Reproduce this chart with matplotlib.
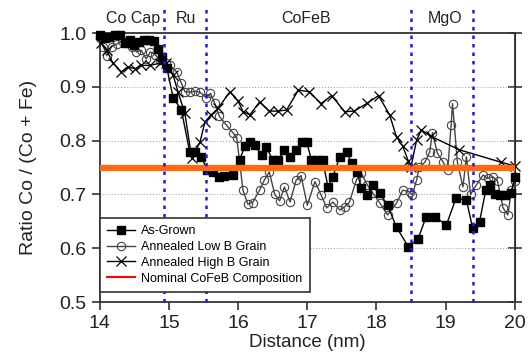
import matplotlib
matplotlib.use("Agg")
import matplotlib.pyplot as plt
from matplotlib.lines import Line2D

plt.rcParams['font.family'] = ['Liberation Sans', 'DejaVu Sans']

# As-Grown
grown_x = [14.00, 14.07, 14.14, 14.22, 14.29, 14.36, 14.43, 14.50, 14.57, 14.64,
           14.71, 14.78, 14.84, 14.90, 14.97, 15.06, 15.18, 15.30, 15.38, 15.47,
           15.55, 15.63, 15.72, 15.80, 15.92, 16.02, 16.10, 16.17, 16.24, 16.34,
           16.41, 16.50, 16.58, 16.67, 16.75, 16.84, 16.93, 16.99, 17.06, 17.14,
           17.22, 17.30, 17.37, 17.47, 17.57, 17.64, 17.72, 17.78, 17.87, 17.95,
           18.05, 18.16, 18.29, 18.46, 18.60, 18.72, 18.84, 19.01, 19.15, 19.30,
           19.39, 19.49, 19.58, 19.64, 19.71, 19.78, 19.86, 19.95, 20.00]
grown_y = [0.996, 0.990, 0.993, 0.997, 0.996, 0.981, 0.987, 0.978, 0.984, 0.988,
           0.988, 0.985, 0.970, 0.956, 0.935, 0.880, 0.857, 0.779, 0.779, 0.770,
           0.745, 0.742, 0.733, 0.735, 0.736, 0.764, 0.790, 0.798, 0.792, 0.773,
           0.788, 0.764, 0.765, 0.782, 0.770, 0.782, 0.798, 0.798, 0.764, 0.764,
           0.764, 0.714, 0.733, 0.770, 0.779, 0.758, 0.742, 0.712, 0.699, 0.717,
           0.702, 0.680, 0.639, 0.603, 0.617, 0.659, 0.659, 0.643, 0.693, 0.690,
           0.638, 0.649, 0.708, 0.717, 0.700, 0.699, 0.699, 0.702, 0.733]

# Annealed Low B Grain
low_x = [14.00, 14.05, 14.10, 14.17, 14.25, 14.32, 14.40, 14.47, 14.53, 14.60,
         14.67, 14.73, 14.80, 14.87, 14.95, 15.01, 15.11, 15.18, 15.23, 15.30,
         15.38, 15.45, 15.54, 15.60, 15.66, 15.73, 15.83, 15.93, 15.98, 16.07,
         16.14, 16.21, 16.31, 16.38, 16.45, 16.53, 16.60, 16.67, 16.75, 16.84,
         16.91, 17.00, 17.11, 17.20, 17.28, 17.37, 17.47, 17.54, 17.61, 17.71,
         17.78, 17.87, 17.95, 18.05, 18.16, 18.29, 18.38, 18.48, 18.52, 18.58,
         18.62, 18.70, 18.77, 18.81, 18.88, 18.96, 19.03, 19.08, 19.10, 19.17,
         19.25, 19.30, 19.36, 19.44, 19.54, 19.61, 19.68, 19.75, 19.83, 19.90,
         19.95, 20.00]
low_y = [0.990, 0.975, 0.958, 0.975, 0.980, 0.985, 0.982, 0.975, 0.965, 0.968,
         0.952, 0.965, 0.960, 0.950, 0.945, 0.940, 0.928, 0.907, 0.891, 0.890,
         0.892, 0.890, 0.880, 0.888, 0.870, 0.845, 0.829, 0.814, 0.805, 0.708,
         0.682, 0.685, 0.708, 0.727, 0.742, 0.700, 0.688, 0.714, 0.686, 0.727,
         0.735, 0.680, 0.724, 0.699, 0.675, 0.686, 0.671, 0.677, 0.686, 0.727,
         0.740, 0.717, 0.702, 0.684, 0.662, 0.684, 0.708, 0.705, 0.699, 0.727,
         0.751, 0.760, 0.779, 0.815, 0.777, 0.761, 0.745, 0.830, 0.869, 0.760,
         0.714, 0.770, 0.700, 0.717, 0.736, 0.730, 0.733, 0.725, 0.675, 0.662,
         0.708, 0.725]

# Annealed High B Grain
high_x = [14.02, 14.10, 14.19, 14.31, 14.41, 14.51, 14.60, 14.72, 14.87, 14.96,
          15.06, 15.13, 15.23, 15.33, 15.45, 15.52, 15.61, 15.71, 15.88, 16.00,
          16.07, 16.17, 16.31, 16.45, 16.57, 16.70, 16.87, 17.03, 17.20, 17.35,
          17.54, 17.68, 17.87, 18.03, 18.19, 18.29, 18.38, 18.46, 18.50, 18.58,
          18.65, 18.79, 19.20, 19.80, 20.00]
high_y = [0.981, 0.968, 0.944, 0.928, 0.937, 0.934, 0.940, 0.940, 0.944, 0.944,
          0.922, 0.891, 0.851, 0.767, 0.798, 0.835, 0.848, 0.860, 0.891, 0.874,
          0.854, 0.848, 0.872, 0.855, 0.855, 0.857, 0.894, 0.891, 0.869, 0.884,
          0.854, 0.855, 0.870, 0.884, 0.848, 0.807, 0.790, 0.762, 0.752, 0.801,
          0.820, 0.808, 0.783, 0.760, 0.753]

nominal = 0.75
boundaries = [14.93, 15.53, 18.50, 19.39]
regions = ['Co Cap', 'Ru', 'CoFeB', 'MgO']
region_x = [14.48, 15.25, 16.98, 18.99]

fontsize = 14
dark = '#333333'

fig = plt.figure(figsize=(5.28, 3.6), dpi=100)
ax = fig.add_axes([0.189, 0.161, 0.786, 0.747])

ax.plot(grown_x, grown_y, color='black', lw=1, marker='s', ms=6.2,
        markerfacecolor='black', markeredgecolor='black', label='As-Grown',
        zorder=4, clip_on=False)
ax.plot(low_x, low_y, color='#444444', lw=1, marker='o', ms=6,
        markerfacecolor='none', markeredgecolor='#444444', markeredgewidth=0.8,
        label='Annealed Low B Grain', zorder=3, clip_on=False)
ax.plot(high_x, high_y, color='black', lw=1, marker='x', ms=6.5,
        markeredgewidth=0.9, label='Annealed High B Grain', zorder=3,
        clip_on=False)

ax.axhline(nominal, color='#ff6a10', lw=4.5, zorder=5)

for b in boundaries:
    ax.plot([b, b], [0, 1.093], transform=ax.get_xaxis_transform(),
            color='#1a1aee', lw=1.8, linestyle=(0, (1.4, 2.0)),
            clip_on=False, zorder=6)

for name, xr in zip(regions, region_x):
    ax.text(xr, 1.056, name, transform=ax.get_xaxis_transform(),
            ha='center', va='center', fontsize=11.5, color='#222222')

ax.set_xlim(14, 20)
ax.set_ylim(0.5, 1.0)
ax.set_xticks([14, 15, 16, 17, 18, 19, 20])
ax.set_yticks([0.5, 0.6, 0.7, 0.8, 0.9, 1.0])
ax.set_yticklabels(['0.5', '0.6', '0.7', '0.8', '0.9', '1.0'])
ax.tick_params(axis='both', labelsize=fontsize, colors=dark, labelcolor='#222222',
               direction='out', length=6, width=1.2)
for y in [0.6, 0.7, 0.8, 0.9]:
    ax.axhline(y, color='#999999', lw=0.7, linestyle=(0, (1, 2)), zorder=1)

for s in ax.spines.values():
    s.set_color(dark)
    s.set_linewidth(1.3)

sec = ax.secondary_yaxis('right')
sec.set_yticks([0.5, 0.6, 0.7, 0.8, 0.9, 1.0])
sec.tick_params(direction='inout', length=10, width=1.2, colors=dark,
                labelright=False)

ax.set_xlabel('Distance (nm)', fontsize=13.5, color='#222222', labelpad=1)
ax.set_ylabel('Ratio Co / (Co + Fe)', fontsize=14, color='#222222', labelpad=16)

handles, labels = ax.get_legend_handles_labels()
handles.append(Line2D([], [], color='red', lw=1.5))
labels.append('Nominal CoFeB Composition')
leg = ax.legend(handles, labels, loc='lower left', bbox_to_anchor=(0.0, 0.037),
                borderaxespad=0, fontsize=9, frameon=True, fancybox=False,
                framealpha=1, edgecolor=dark, handlelength=2.2,
                labelspacing=0.3, borderpad=0.6, handletextpad=0.5)
leg.get_frame().set_linewidth(1.2)
leg.set_zorder(10)

plt.savefig('out.png', dpi=100)
